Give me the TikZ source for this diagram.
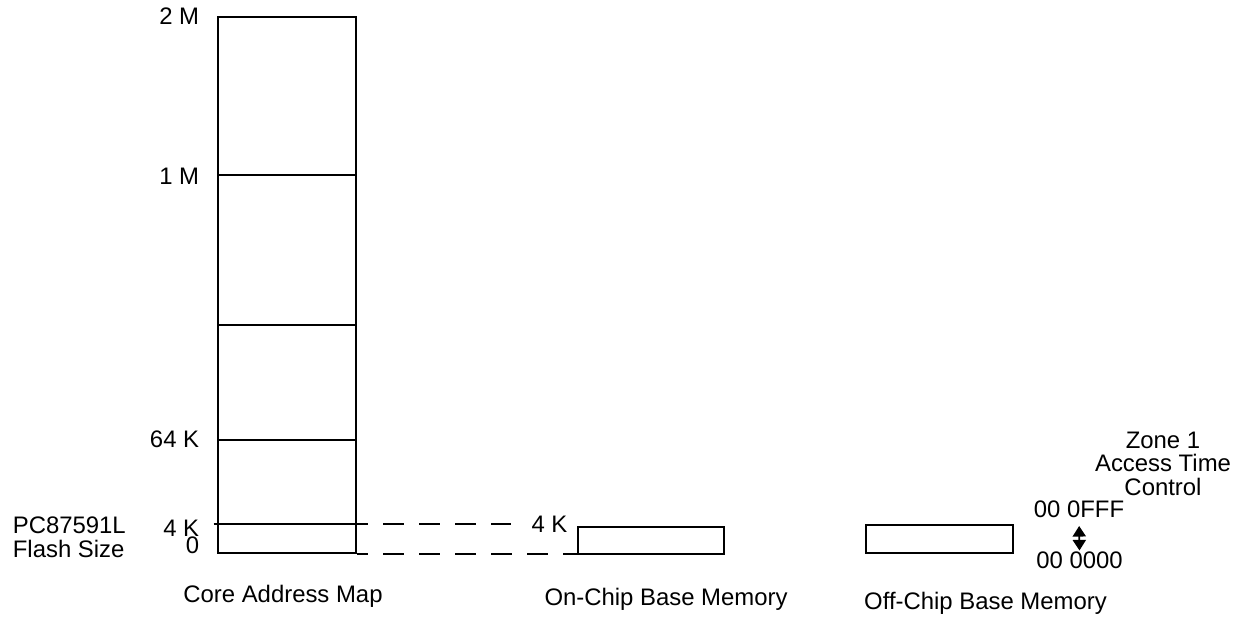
\documentclass[tikz,border=0pt]{standalone}
\usepackage{fontspec}
\setmainfont{Liberation Sans}
\usetikzlibrary{arrows.meta,positioning}
\begin{document}
\begin{tikzpicture}[x=0.02cm,y=-0.02cm,line width=1pt,
        font=\fontsize{13.6}{13.2}\selectfont,
        mem/.style={draw,inner sep=0pt},
        lbl/.style={inner sep=0pt,anchor=base},
        guia/.style={dash pattern=on 12pt off 8.5pt,dash phase=5.5pt}]
        \useasboundingbox (0,0) rectangle (1241,618);

        % Mapa del core
        \node[mem,minimum width=2.76cm,minimum height=10.72cm] (core) at (287,285) {};
        \foreach \y in {175,325,440}
            \draw (core.west |- 0,\y) -- (core.east |- 0,\y);
        \draw ([xshift=-2pt]core.west |- 0,524) coordinate (k4) -- (core.east |- 0,524);

        % Etiquetas
        \foreach \y/\ytext/\n in {25/2 M/m2, 185/1 M/m1, 447/64 K/k64, 536/4 K/k4l, 553/0/cero}
            \node[lbl,anchor=base east] (\n) at (200,\y) {\ytext};
        \node[lbl,anchor=base west,align=left] (flash) at (12,557) {PC87591L\\Flash Size};
        \node[lbl] (coret) at (283,602) {Core Address Map};

        % Memorias base
        \node[mem,minimum width=2.92cm,minimum height=0.54cm] (onchip) at (651,540.5) {};
        \node[mem,minimum width=2.94cm,minimum height=0.56cm] (offchip) at (939.5,539) {};
        \node[lbl] (onk4) at (549.5,532) {4 K};
        \node[lbl] (ont) at (666,605) {On-Chip Base Memory};
        \node[lbl] (offt) at (985.5,609) {Off-Chip Base Memory};

        % Lineas guia
        \coordinate (g4) at (511,524);
        \draw[guia] (core.east |- 0,524) -- (g4);
        \draw[guia] (core.south east) -- (core.south east -| onchip.west);

        % Zona 1
        \node[lbl] (hi) at (1079,517) {00 0FFF};
        \node[lbl] (lo) at (1079.5,568) {00 0000};
        \draw[{Triangle[length=6pt,width=7.5pt]}-{Triangle[length=6pt,width=7.5pt]},
            shorten <=4.5pt] (hi.south) -- (lo.north);
        \node[lbl,align=center] (zona) at (1163,495) {Zone 1\\Access Time\\Control};
    \end{tikzpicture}
\end{document}
